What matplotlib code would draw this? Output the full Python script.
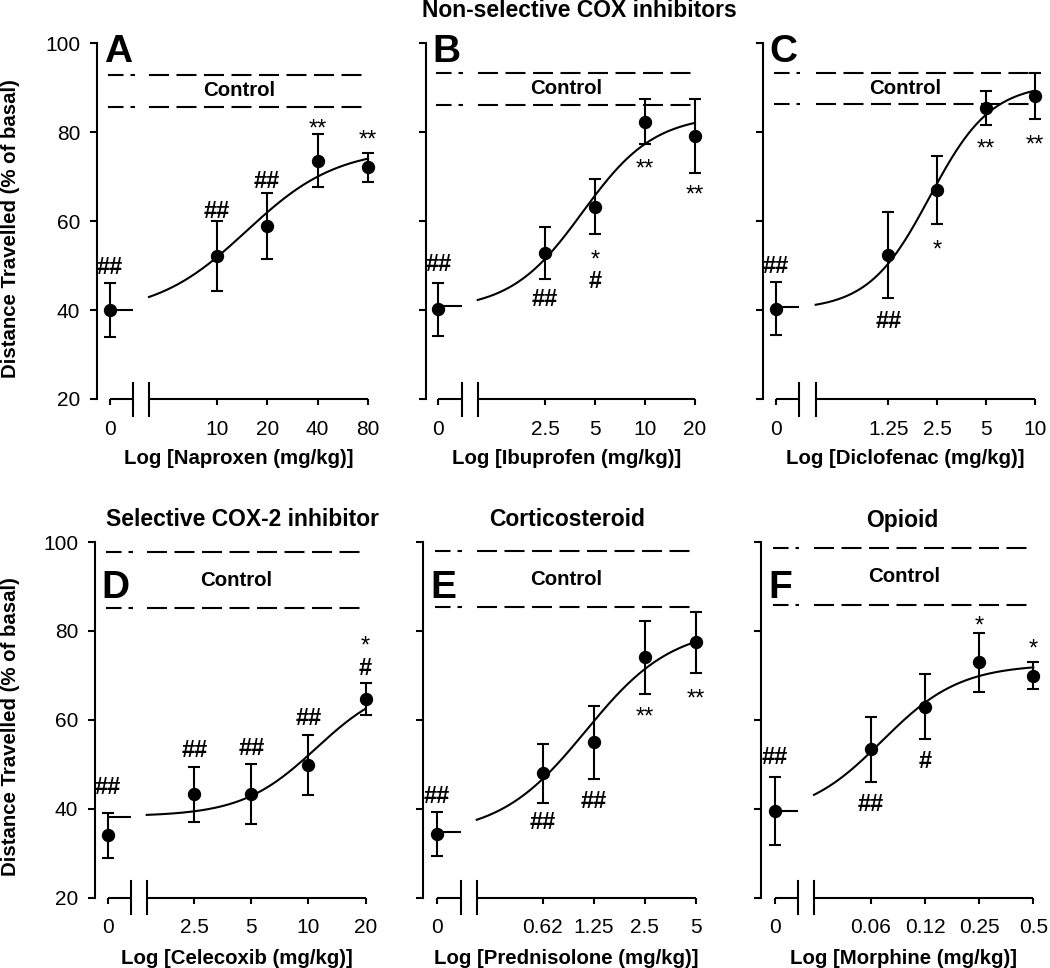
import numpy as np
import matplotlib
matplotlib.use("Agg")
import matplotlib.pyplot as plt
from matplotlib.ticker import NullLocator
from matplotlib.transforms import offset_copy

plt.rcParams['font.family'] = ['Liberation Sans', 'DejaVu Sans']
plt.rcParams['lines.scale_dashes'] = False

# ---------------- data (first value of each mean/sem list = vehicle, dose 0) ----------------
naproxen_dose = [10, 20, 40, 80]
naproxen_labels = ["0", "10", "20", "40", "80"]
naproxen_mean = [40.0, 52.2, 59.0, 73.6, 72.1]
naproxen_err = [6.0, 7.8, 7.4, 6.0, 3.3]
naproxen_fit = [39.0, 76.5, 15.0, 1.6]          # bottom, top, ED50, Hill
naproxen_base = 40.0
naproxen_control = [92.9, 85.8]

ibuprofen_dose = [2.5, 5, 10, 20]
ibuprofen_labels = ["0", "2.5", "5", "10", "20"]
ibuprofen_mean = [40.2, 52.9, 63.3, 82.4, 79.2]
ibuprofen_err = [6.0, 5.8, 6.2, 5.1, 8.3]
ibuprofen_fit = [40.0, 84.0, 4.2, 2.0]
ibuprofen_base = 40.9
ibuprofen_control = [93.4, 86.2]

diclofenac_dose = [1.25, 2.5, 5, 10]
diclofenac_labels = ["0", "1.25", "2.5", "5", "10"]
diclofenac_mean = [40.3, 52.4, 67.0, 85.4, 88.2]
diclofenac_err = [6.0, 9.6, 7.6, 3.8, 5.1]
diclofenac_fit = [40.0, 91.0, 2.25, 2.3]
diclofenac_base = 40.6
diclofenac_control = [93.4, 86.3]

celecoxib_dose = [2.5, 5, 10, 20]
celecoxib_labels = ["0", "2.5", "5", "10", "20"]
celecoxib_mean = [34.0, 43.3, 43.3, 49.8, 64.7]
celecoxib_err = [5.0, 6.2, 6.7, 6.8, 3.7]
celecoxib_fit = [38.3, 69.0, 11.0, 2.2]
celecoxib_base = 38.1
celecoxib_control = [97.8, 85.1]

prednisolone_dose = [0.625, 1.25, 2.5, 5]
prednisolone_labels = ["0", "0.62", "1.25", "2.5", "5"]
prednisolone_mean = [34.3, 48.0, 55.0, 74.1, 77.4]
prednisolone_err = [5.0, 6.6, 8.2, 8.2, 6.9]
prednisolone_fit = [34.0, 81.0, 1.12, 1.7]
prednisolone_base = 34.8
prednisolone_control = [98.0, 85.3]

morphine_dose = [0.0625, 0.125, 0.25, 0.5]
morphine_labels = ["0", "0.06", "0.12", "0.25", "0.5"]
morphine_mean = [39.5, 53.4, 63.0, 72.9, 69.9]
morphine_err = [7.6, 7.3, 7.3, 6.6, 3.0]
morphine_fit = [38.0, 72.5, 0.072, 2.0]
morphine_base = 39.5
morphine_control = [98.6, 85.8]

# significance marks: (point index, text, value at centre of mark)
naproxen_marks = [(0, "##", 50.0), (1, "##", 62.7), (2, "##", 69.3), (3, "**", 82.4), (4, "**", 79.9)]
ibuprofen_marks = [(0, "##", 50.7), (1, "##", 42.8), (2, "*", 52.9), (2, "#", 46.8), (3, "**", 73.3), (4, "**", 67.5)]
diclofenac_marks = [(0, "##", 50.2), (1, "##", 37.8), (2, "*", 55.2), (3, "**", 77.9), (4, "**", 78.8)]
celecoxib_marks = [(0, "##", 45.1), (1, "##", 53.6), (2, "##", 54.0), (3, "##", 60.7), (4, "*", 78.3), (4, "#", 72.0)]
prednisolone_marks = [(0, "##", 43.1), (1, "##", 37.3), (2, "##", 42.1), (3, "**", 62.2), (4, "**", 66.2)]
morphine_marks = [(0, "##", 51.9), (1, "##", 41.4), (2, "#", 51.0), (3, "*", 82.8), (4, "*", 77.6)]

# ---------------- layout (pixels) ----------------
W, H = 1050, 968
fig = plt.figure(figsize=(W / 100, H / 100), dpi=100)

ROWS = {0: (43.5, 399.0), 1: (542.0, 897.7)}
# spine, zero, first dose, last dose, break1, break2 (x pixels)
panels = [
    dict(row=0, letter="A", drug="Naproxen", dose=naproxen_dose, labels=naproxen_labels,
         mean=naproxen_mean, err=naproxen_err, fit=naproxen_fit, base=naproxen_base,
         control=naproxen_control, marks=naproxen_marks,
         px=(96.7, 110.0, 216.7, 368.0, 133.0, 149.0)),
    dict(row=0, letter="B", drug="Ibuprofen", dose=ibuprofen_dose, labels=ibuprofen_labels,
         mean=ibuprofen_mean, err=ibuprofen_err, fit=ibuprofen_fit, base=ibuprofen_base,
         control=ibuprofen_control, marks=ibuprofen_marks,
         px=(426.0, 438.3, 545.0, 695.0, 461.7, 477.7)),
    dict(row=0, letter="C", drug="Diclofenac", dose=diclofenac_dose, labels=diclofenac_labels,
         mean=diclofenac_mean, err=diclofenac_err, fit=diclofenac_fit, base=diclofenac_base,
         control=diclofenac_control, marks=diclofenac_marks,
         px=(762.7, 775.7, 888.3, 1035.0, 799.0, 815.7)),
    dict(row=1, letter="D", drug="Celecoxib", dose=celecoxib_dose, labels=celecoxib_labels,
         mean=celecoxib_mean, err=celecoxib_err, fit=celecoxib_fit, base=celecoxib_base,
         control=celecoxib_control, marks=celecoxib_marks,
         px=(95.0, 107.7, 194.3, 365.5, 131.0, 146.7)),
    dict(row=1, letter="E", drug="Prednisolone", dose=prednisolone_dose, labels=prednisolone_labels,
         mean=prednisolone_mean, err=prednisolone_err, fit=prednisolone_fit, base=prednisolone_base,
         control=prednisolone_control, marks=prednisolone_marks,
         px=(422.7, 436.7, 542.7, 696.0, 461.0, 476.7)),
    dict(row=1, letter="F", drug="Morphine", dose=morphine_dose, labels=morphine_labels,
         mean=morphine_mean, err=morphine_err, fit=morphine_fit, base=morphine_base,
         control=morphine_control, marks=morphine_marks,
         px=(761.0, 774.7, 871.0, 1033.3, 797.7, 814.0)),
]

LW = 1.5
BOLD = dict(fontweight="bold", fontsize=14.7)
TITLE = dict(fontweight="bold", fontsize=16.5)
LETTER_Y = {0: 95.9, 1: 87.5}


def fx(px):
    return px / W


def fy(py):
    return 1 - py / H


for p in panels:
    top_px, bot_px = ROWS[p["row"]]
    spine, zero_px, first_px, last_px, b1_px, b2_px = p["px"]
    d0, d1 = p["dose"][0], p["dose"][-1]
    k = (last_px - first_px) / np.log2(d1 / d0)

    def px2d(px):
        return d0 * 2 ** ((px - first_px) / k)

    right_px = last_px + 12
    ax = fig.add_axes([fx(spine), fy(bot_px), (right_px - spine) / W, (bot_px - top_px) / H])
    ax.set_xscale("log", base=2)
    ax.set_xlim(px2d(spine), px2d(right_px))
    ax.set_ylim(20, 100)
    for s in ("top", "right", "bottom"):
        ax.spines[s].set_visible(False)
    ax.spines["left"].set_linewidth(LW)

    zd, b1, b2 = px2d(zero_px), px2d(b1_px), px2d(b2_px)
    xs = [zd] + list(p["dose"])

    # x axis with break
    ax.plot([zd, b1], [20, 20], color="k", lw=LW, clip_on=False, solid_capstyle="butt")
    ax.plot([b2, d1], [20, 20], color="k", lw=LW, clip_on=False, solid_capstyle="butt")
    dy = 16.5 / ((bot_px - top_px) / 80)
    for b in (b1, b2):
        ax.plot([b, b], [20 - dy, 20 + dy], color="k", lw=LW, clip_on=False)

    ax.set_xticks(xs)
    ax.set_xticklabels(p["labels"])
    ax.xaxis.set_minor_locator(NullLocator())
    ax.tick_params(axis="x", direction="out", length=4.3, width=LW, pad=10.5, labelsize=15)
    ax.set_yticks([20, 40, 60, 80, 100])
    ax.tick_params(axis="y", direction="out", length=5.0, width=LW, pad=7.0, labelsize=15)
    if p["letter"] not in ("A", "D"):
        ax.tick_params(axis="y", labelleft=False)

    # control band (dashed, interrupted at the axis break)
    lz, lb = px2d(zero_px - 2), px2d(b1_px + 1.5)
    for c in p["control"]:
        ax.plot([lz, lb], [c, c], color="k", lw=LW, dashes=(11.2, 5.0), dash_capstyle="butt")
        ax.plot([b2, d1], [c, c], color="k", lw=LW, dashes=(14.4, 5.4), dash_capstyle="butt")
    ax.text(np.sqrt(zd * d1), np.mean(p["control"]), "Control", ha="center", va="center", **BOLD)

    # baseline at vehicle and fitted curve
    ax.plot([zd, b1], [p["base"], p["base"]], color="k", lw=LW, solid_capstyle="butt")
    bottom, top, ed50, hill = p["fit"]
    cx = np.geomspace(b2, d1, 300)
    ax.plot(cx, bottom + (top - bottom) / (1 + (ed50 / cx) ** hill), color="k", lw=LW)

    ax.errorbar(xs, p["mean"], yerr=p["err"], fmt="o", color="k", ms=8.6, capsize=4.1,
                elinewidth=LW, capthick=LW, clip_on=False, zorder=5)

    # significance marks
    for idx, txt, yv in p["marks"]:
        fs = 17
        c = 0.35 if "#" in txt else 0.58
        ax.annotate(txt, xy=(xs[idx], yv), xytext=(0, -c * fs), textcoords="offset points",
                    ha="center", va="baseline", fontsize=fs,
                    fontweight="bold" if "#" in txt else "normal")

    # panel letter
    tr = offset_copy(ax.transData, fig=fig, x=-6, y=0, units="dots")
    ax.text(zd, LETTER_Y[p["row"]], p["letter"], transform=tr, ha="left", va="baseline",
            fontsize=28, fontweight="bold", clip_on=False)

    # x label
    xl_base = 464 if p["row"] == 0 else 964
    fig.text(fx((zero_px + last_px) / 2), fy(xl_base), f"Log [{p['drug']} (mg/kg)]",
             ha="center", va="baseline", **BOLD)

# y labels
for cy in (229, 727):
    fig.text(fx(11), fy(cy), "Distance Travelled (% of basal)", rotation=90,
             ha="center", va="center", **BOLD)

# group titles
fig.text(fx(579), fy(17), "Non-selective COX inhibitors", ha="center", va="baseline", **TITLE)
fig.text(fx(243), fy(526.5), "Selective COX-2 inhibitor", ha="center", va="baseline", **TITLE)
fig.text(fx(567), fy(526.5), "Corticosteroid", ha="center", va="baseline", **TITLE)
fig.text(fx(902), fy(526.5), "Opioid", ha="center", va="baseline", **TITLE)

fig.savefig("out.png", dpi=100)
